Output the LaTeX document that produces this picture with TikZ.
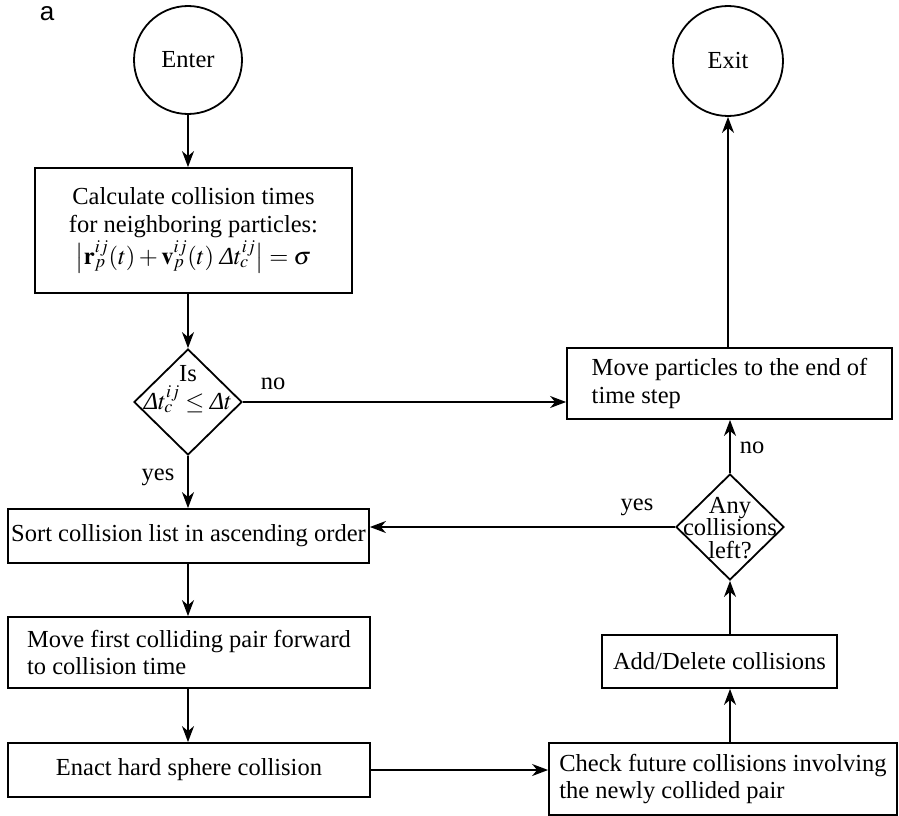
\documentclass[tikz,border=0pt]{standalone}
\usepackage{mathptmx}
\usepackage{fontspec}
\setmainfont{Liberation Serif}
\newfontfamily\labfont{Liberation Sans}
\usetikzlibrary{shapes.geometric,arrows.meta}
\newcommand\fsz{\fontsize{24.5}{27.5}\selectfont}
\newcommand\Dlt{\textit{Δ}}
\tikzset{
  every node/.style={font=\fsz},
  boxnode/.style={draw, line width=1.8pt, rectangle, inner sep=0pt, align=left},
  circnode/.style={draw, line width=1.8pt, circle, inner sep=0pt},
  dianode/.style={draw, line width=1.8pt, diamond, inner sep=0pt, aspect=1},
  conn/.style={line width=1.6pt, -{Stealth[length=16pt,width=12pt,inset=5pt]}},
  lbl/.style={inner sep=0pt}
}
\begin{document}
\begin{tikzpicture}[x=1pt,y=-1pt]
\useasboundingbox (0,0) rectangle (899,816);
\node[lbl, font=\labfont\fontsize{26}{28}\selectfont] (alab) at (47,14) {a};
\node[circnode, minimum size=108pt] (enter) at (188,60) {Enter};
\node[circnode, minimum size=110pt] (exit) at (728,61) {Exit};
\node[boxnode, align=center, minimum width=317pt, minimum height=125pt] (calc) at (193.5,230.5)
  {Calculate collision times\\ for neighboring particles:\\[2pt]
   $\bigl|\mathbf{r}^{ij}_{p}(t)+\mathbf{v}^{ij}_{p}(t)\;\Dlt t^{ij}_{c}\bigr|=\sigma$};
\node[dianode, minimum width=108pt, minimum height=106pt] (d1) at (188,402) {};
\node[lbl, align=center, font=\fontsize{24.5}{28}\selectfont] (d1t) at (188,389) {Is\\ $\Dlt t^{ij}_{c}\le\Dlt t$};
\node[boxnode, minimum width=325pt, minimum height=71pt] (mp) at (729.5,383.5)
  {Move particles to the end of\\ time step};
\node[dianode, minimum width=108pt, minimum height=106pt] (d2) at (730,527) {};
\node[lbl, align=center, font=\fontsize{24.5}{22.5}\selectfont] (d2t) at (730,528) {Any\\ collisions\\ left?};
\node[boxnode, minimum width=361pt, minimum height=54pt] (sort) at (188.5,536)
  {Sort collision list in ascending order};
\node[boxnode, minimum width=362pt, minimum height=71pt] (mf) at (189,652.5)
  {Move first colliding pair forward\\ to collision time};
\node[boxnode, minimum width=362pt, minimum height=54pt] (enact) at (189,770)
  {Enact hard sphere collision};
\node[boxnode, minimum width=348pt, minimum height=72pt] (check) at (723,779)
  {Check future collisions involving\\ the newly collided pair};
\node[boxnode, minimum width=235pt, minimum height=53pt] (add) at (719.5,661.5)
  {Add/Delete collisions};
\node[lbl] (lno1) at (273,384) {no};
\node[lbl] (lyes1) at (158,477) {yes};
\node[lbl] (lno2) at (752,448) {no};
\node[lbl] (lyes2) at (637,507) {yes};
\draw[conn] (enter.south) -- (enter.south |- calc.north);
\draw[conn] (d1.north |- calc.south) -- (d1.north);
\draw[conn] (d1.east) -- (d1.east -| mp.west);
\draw[conn] (exit.south |- mp.north) -- (exit.south);
\draw[conn] (d2.north) -- (d2.north |- mp.south);
\draw[conn] (d2.west) -- (d2.west -| sort.east);
\draw[conn] (d1.south) -- (d1.south |- sort.north);
\draw[conn] (d1.south |- sort.south) -- (d1.south |- mf.north);
\draw[conn] (d1.south |- mf.south) -- (d1.south |- enact.north);
\draw[conn] (enact.east) -- (enact.east -| check.west);
\draw[conn] (d2.south |- check.north) -- (d2.south |- add.south);
\draw[conn] (d2.south |- add.north) -- (d2.south);
\end{tikzpicture}
\end{document}
